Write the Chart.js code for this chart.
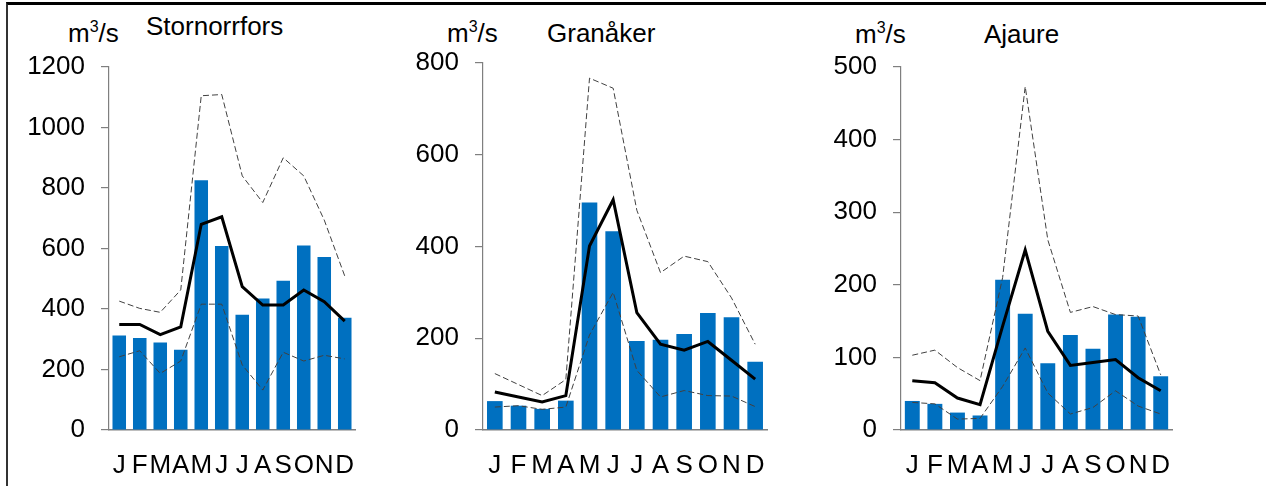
<!DOCTYPE html>
<html>
<head>
<meta charset="utf-8">
<script src="https://cdn.jsdelivr.net/npm/chart.js@4/dist/chart.umd.min.js"></script>
<style>
  body { margin: 0; background: #fff; width: 1266px; height: 486px; overflow: hidden; position: relative;
         font-family: "Liberation Sans", Arial, sans-serif; }
  .frame { position: absolute; left: 6px; top: 2px; width: 1260px; height: 484px;
           border-top: 3px solid #000; border-left: 2px solid #333; box-sizing: border-box; }
  .panel { position: absolute; top: 10px; height: 476px; }
  .lbl { position: absolute; font-size: 26px; line-height: 26px; color: #000; white-space: nowrap; }
  .lbl span { font-size: 16px; position: relative; top: -10px; }
</style>
</head>
<body>
<div class="frame"></div>

<div class="lbl" style="left:68px;top:20px">m<span>3</span>/s</div>
<div class="lbl" style="left:146px;top:13px">Stornorrfors</div>
<div class="lbl" style="left:447px;top:20px">m<span>3</span>/s</div>
<div class="lbl" style="left:547px;top:20px">Granåker</div>
<div class="lbl" style="left:855px;top:21px">m<span>3</span>/s</div>
<div class="lbl" style="left:984px;top:21px">Ajaure</div>

<div class="panel" style="left:10px;width:390px"><canvas id="c1"></canvas></div>
<div class="panel" style="left:405px;width:395px"><canvas id="c2"></canvas></div>
<div class="panel" style="left:815px;width:415px"><canvas id="c3"></canvas></div>

<script>
/* ---- data (m3/s per month) ---- */
const months = ['J', 'F', 'M', 'A', 'M', 'J', 'J', 'A', 'S', 'O', 'N', 'D'];

const stornorrforsYear = [312, 304, 289, 265, 826, 608, 381, 435, 493, 610, 572, 371];
const stornorrforsMean = [349, 349, 315, 341, 680, 705, 474, 413, 413, 463, 424, 360];
const stornorrforsMax  = [426, 402, 389, 463, 1105, 1109, 840, 752, 900, 840, 694, 509];
const stornorrforsMin  = [242, 262, 187, 228, 416, 416, 215, 132, 257, 228, 247, 235];

const granakerYear = [63, 53, 46, 64, 496, 433, 194, 197, 209, 255, 246, 149];
const granakerMean = [83, 72, 61, 75, 401, 502, 256, 187, 174, 193, 152, 111];
const granakerMax  = [123, 99, 75, 110, 767, 745, 479, 343, 379, 367, 288, 187];
const granakerMin  = [50, 53, 45, 50, 207, 300, 130, 72, 86, 75, 74, 51];

const ajaureYear = [40, 36, 24, 20, 207, 160, 92, 131, 112, 159, 156, 74];
const ajaureMean = [68, 65, 44, 35, 143, 248, 136, 89, 93, 97, 72, 54];
const ajaureMax  = [103, 110, 86, 68, 210, 473, 262, 162, 170, 159, 157, 76];
const ajaureMin  = [38, 36, 15, 16, 60, 113, 51, 22, 31, 54, 33, 22];

const yMax = [1200, 800, 500];
const yStep = [200, 200, 100];

const axisColor = '#7f7f7f';
const tickFont = { family: '"Liberation Sans", Arial, sans-serif', size: 26 };

function dashed(data) {
    return {
        type: 'line', data, order: 2,
        borderColor: '#404040', borderWidth: 1, borderDash: [6, 3],
        pointRadius: 0, tension: 0, fill: false
    };
}

function makeChart(id, year, mean, max, min, top, max_, step, axisW, padRight) {
    new Chart(document.getElementById(id), {
        data: {
            labels: months,
            datasets: [
                { type: 'line', data: mean, order: 1, borderColor: '#000', borderWidth: 3,
                  pointRadius: 0, tension: 0, fill: false },
                dashed(max),
                dashed(min),
                { type: 'bar', data: year, order: 10, backgroundColor: '#0070C0',
                  barPercentage: 0.66, categoryPercentage: 1 }
            ]
        },
        options: {
            responsive: true,
            maintainAspectRatio: false,
            animation: false,
            layout: { padding: { top: top, right: padRight, bottom: 0, left: 0 } },
            plugins: { legend: { display: false }, tooltip: { enabled: false } },
            scales: {
                x: {
                    offset: true,
                    grid: { display: false, drawTicks: false },
                    border: { display: true, color: axisColor, width: 1.5 },
                    ticks: { font: tickFont, color: '#000', padding: 20, autoSkip: false, maxRotation: 0 },
                    afterFit: s => { s.height = 56; }
                },
                y: {
                    min: 0, max: max_,
                    grid: { drawOnChartArea: false, tickLength: 8, color: axisColor, lineWidth: 1.2 },
                    border: { display: true, color: axisColor, width: 1.2 },
                    ticks: { stepSize: step, font: tickFont, color: '#000', padding: 16,
                             callback: v => String(v) },
                    afterFit: s => { s.width = axisW; }
                }
            }
        }
    });
}

makeChart('c1', stornorrforsYear, stornorrforsMean, stornorrforsMax, stornorrforsMin, 57, yMax[0], yStep[0], 99, 45);
makeChart('c2', granakerYear, granakerMean, granakerMax, granakerMin, 53, yMax[1], yStep[1], 78, 33);
makeChart('c3', ajaureYear, ajaureMean, ajaureMax, ajaureMin, 57, yMax[2], yStep[2], 86, 58);
</script>
</body>
</html>
